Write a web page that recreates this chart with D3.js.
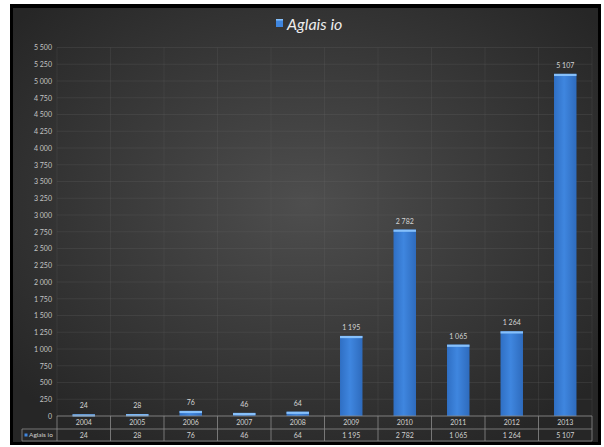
<!DOCTYPE html>
<html><head><meta charset="utf-8">
<script src="https://cdn.jsdelivr.net/npm/d3@7"></script>
<style>html,body{margin:0;padding:0;background:#fff;}svg{display:block;}</style>
</head><body>
<script>
const categories = ["2004","2005","2006","2007","2008","2009","2010","2011","2012","2013"];
const values = [24, 28, 76, 46, 64, 1195, 2782, 1065, 1264, 5107];
const seriesName = "Aglais io";
const yTicks = d3.range(0, 5501, 250);

(function () {
const W = 604, H = 447;
const FONT = "Lato, 'Open Sans', sans-serif";
const FS = 7;
const fmt = d3.formatLocale({decimal: ",", thousands: "\u00a0", grouping: [3], currency: ["", ""]}).format(",d");

const svg = d3.select("body").append("svg").attr("width", W).attr("height", H);
const defs = svg.append("defs");
const rg = defs.append("radialGradient").attr("id", "bg").attr("cx", "50%").attr("cy", "45%").attr("r", "65%");
rg.append("stop").attr("offset", "0%").attr("stop-color", "#4e4e4e");
rg.append("stop").attr("offset", "100%").attr("stop-color", "#262626");
const bg = defs.append("linearGradient").attr("id", "bar").attr("x1", "0").attr("x2", "1");
bg.append("stop").attr("offset", "0%").attr("stop-color", "#2f6fc4");
bg.append("stop").attr("offset", "45%").attr("stop-color", "#3f86df");
bg.append("stop").attr("offset", "100%").attr("stop-color", "#2e6bbd");

// frame
svg.append("rect").attr("x", 10).attr("y", 4).attr("width", 591).attr("height", 441).attr("fill", "#000");
svg.append("rect").attr("x", 13).attr("y", 8).attr("width", 585).attr("height", 434).attr("fill", "url(#bg)");

const pLeft = 57, pRight = 592, pTop = 47.5, pBottom = 416;
const x = d3.scaleBand().domain(categories).range([pLeft, pRight]).paddingInner(0).paddingOuter(0);
const y = d3.scaleLinear().domain([0, 5500]).range([pBottom, pTop]);

// grid
const g = svg.append("g");
g.selectAll("line.h").data(yTicks).join("line")
  .attr("x1", pLeft).attr("x2", pRight)
  .attr("y1", d => y(d)).attr("y2", d => y(d))
  .attr("stroke", "#6a6a6a").attr("stroke-opacity", 0.3).attr("stroke-width", 0.8);
g.selectAll("line.v").data(categories.concat(["end"])).join("line")
  .attr("x1", (d, i) => pLeft + i * x.bandwidth()).attr("x2", (d, i) => pLeft + i * x.bandwidth())
  .attr("y1", pTop).attr("y2", pBottom)
  .attr("stroke", "#6a6a6a").attr("stroke-opacity", 0.25).attr("stroke-width", 0.8);

// y axis
const yAxis = d3.axisLeft(y).tickValues(yTicks).tickSize(0).tickPadding(5).tickFormat(fmt);
const ya = svg.append("g").attr("transform", `translate(${pLeft},0)`).call(yAxis);
ya.select(".domain").remove();
ya.selectAll("text").attr("fill", "#c4c4c4").attr("font-family", FONT).attr("font-size", FS);

// bars
const bw = x.bandwidth() * 0.42;
const bars = svg.append("g");
bars.selectAll("rect.b").data(values).join("rect")
  .attr("class", "b")
  .attr("x", (d, i) => x(categories[i]) + (x.bandwidth() - bw) / 2)
  .attr("y", d => y(d))
  .attr("width", bw)
  .attr("height", d => pBottom - y(d))
  .attr("fill", "url(#bar)");
bars.selectAll("rect.t").data(values).join("rect")
  .attr("class", "t")
  .attr("x", (d, i) => x(categories[i]) + (x.bandwidth() - bw) / 2)
  .attr("y", d => y(d))
  .attr("width", bw)
  .attr("height", 2.2)
  .attr("fill", "#86c0fb");
bars.selectAll("text").data(values).join("text")
  .attr("x", (d, i) => x(categories[i]) + x.bandwidth() / 2)
  .attr("y", d => y(d) - 6)
  .attr("text-anchor", "middle")
  .attr("fill", "#d4d4d4").attr("font-family", FONT).attr("font-size", FS)
  .text(d => fmt(d));

// data table
const tline = "#8a8a8a";
const t = svg.append("g");
const r1 = pBottom, r2 = 429, r3 = 441;
t.append("line").attr("x1", pLeft).attr("x2", pRight).attr("y1", r1).attr("y2", r1).attr("stroke", tline).attr("stroke-width", 0.8);
t.append("line").attr("x1", 22).attr("x2", pRight).attr("y1", r2).attr("y2", r2).attr("stroke", tline).attr("stroke-width", 0.8);
t.append("line").attr("x1", 22).attr("x2", pRight).attr("y1", r3).attr("y2", r3).attr("stroke", tline).attr("stroke-width", 0.8);
t.append("line").attr("x1", 22).attr("x2", 22).attr("y1", r2).attr("y2", r3).attr("stroke", tline).attr("stroke-width", 0.8);
t.selectAll("line.c").data(categories.concat(["end"])).join("line")
  .attr("class", "c")
  .attr("x1", (d, i) => pLeft + i * x.bandwidth()).attr("x2", (d, i) => pLeft + i * x.bandwidth())
  .attr("y1", r1).attr("y2", r3).attr("stroke", tline).attr("stroke-width", 0.8);
t.selectAll("text.cat").data(categories).join("text")
  .attr("class", "cat")
  .attr("x", d => x(d) + x.bandwidth() / 2).attr("y", (r1 + r2) / 2 + 2.5)
  .attr("text-anchor", "middle").attr("fill", "#d0d0d0")
  .attr("font-family", FONT).attr("font-size", FS).text(d => d);
t.selectAll("text.val").data(values).join("text")
  .attr("class", "val")
  .attr("x", (d, i) => x(categories[i]) + x.bandwidth() / 2).attr("y", (r2 + r3) / 2 + 2.5)
  .attr("text-anchor", "middle").attr("fill", "#d0d0d0")
  .attr("font-family", FONT).attr("font-size", FS).text(d => fmt(d));
t.append("rect").attr("x", 24.5).attr("y", 433.5).attr("width", 3).attr("height", 3).attr("fill", "#3f86df");
t.append("text").attr("x", 29).attr("y", (r2 + r3) / 2 + 2.4).attr("fill", "#d0d0d0")
  .attr("font-family", FONT).attr("font-size", 6.5).text(seriesName);

// title / legend
svg.append("rect").attr("x", 276).attr("y", 19).attr("width", 7).attr("height", 8).attr("fill", "#3f86df");
svg.append("rect").attr("x", 276).attr("y", 19).attr("width", 7).attr("height", 1.5).attr("fill", "#86c0fb");
svg.append("text").attr("x", 287).attr("y", 29.5).attr("fill", "#ececec")
  .attr("font-family", FONT).attr("font-style", "italic").attr("font-size", 16)
  .text(seriesName);
})();
</script>
</body></html>
